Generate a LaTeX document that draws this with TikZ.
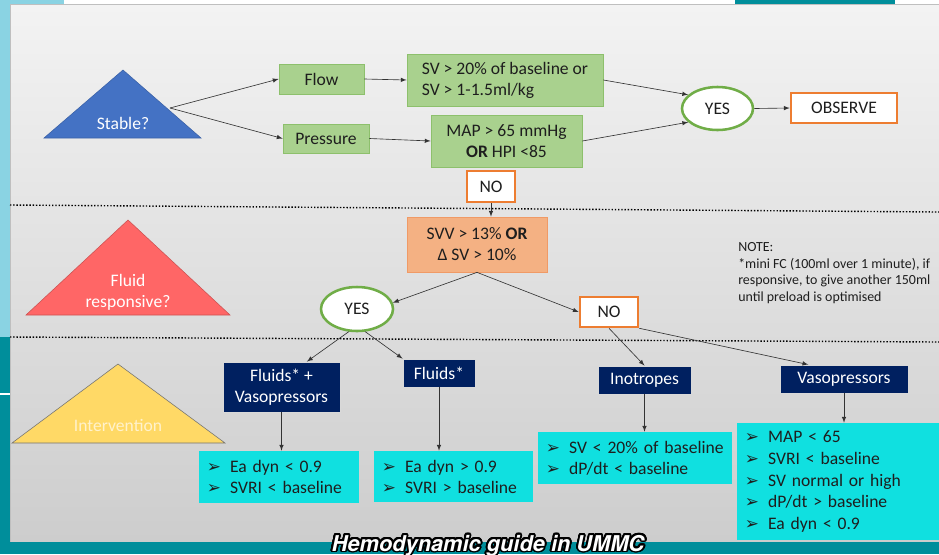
\documentclass[tikz,border=0pt]{standalone}
\usepackage{fontspec}
\setmainfont{Carlito}
\newfontfamily\symfont{DejaVu Sans}
\newfontfamily\titlefont{TeX Gyre Heros}
\usepackage{contour}
\usetikzlibrary{shapes,arrows,positioning}

\definecolor{stripBlue}{HTML}{8AD3E3}
\definecolor{stripTeal}{HTML}{008E9B}
\definecolor{panelTop}{HTML}{F3F3F3}
\definecolor{panelBot}{HTML}{CDCDCD}
\definecolor{stableBlue}{HTML}{4472C4}
\definecolor{fluidRed}{HTML}{FF6666}
\definecolor{interYellow}{HTML}{FFD966}
\definecolor{interText}{HTML}{FFF2CC}
\definecolor{boxGreen}{HTML}{A9D18E}
\definecolor{boxGreenLine}{HTML}{8DC06C}
\definecolor{lineGreen}{HTML}{70AD47}
\definecolor{lineOrange}{HTML}{ED7D31}
\definecolor{svvOrange}{HTML}{F4B183}
\definecolor{svvLine}{HTML}{F09A66}
\definecolor{navyBox}{HTML}{002060}
\definecolor{cyanBox}{HTML}{10E0E0}
\definecolor{textDark}{HTML}{1E1E1E}

\newcommand{\itm}{\makebox[16.5pt][l]{\symfont\fontsize{12}{12}\selectfont ➢}}
\contourlength{1.3pt}
\contournumber{24}

\begin{document}
\begin{tikzpicture}[x=0.025cm, y=-0.025cm, font=\fontsize{12.5}{15}\selectfont, text=textDark]
			\tikzstyle{Green}	= [rectangle, fill=boxGreen, draw=boxGreenLine, line width=0.5pt]
			\tikzstyle{Yes}		= [ellipse, fill=white, draw=lineGreen, line width=1.8pt, minimum width=17.75mm, minimum height=10.75mm, inner sep=0pt]
			\tikzstyle{Orange}	= [rectangle, fill=white, draw=lineOrange, line width=1.8pt]
			\tikzstyle{Svv}		= [rectangle, fill=svvOrange, draw=svvLine, line width=0.5pt, align=center]
			\tikzstyle{Navy}	= [rectangle, fill=navyBox, draw=white!85!black, line width=0.6pt, text=white, align=center]
			\tikzstyle{Cyan}	= [rectangle, fill=cyanBox, inner xsep=2mm, align=left]
			\tikzstyle{Label}	= [text=white, align=center]
			\tikzstyle{Conn}	= [-latex, draw=black!80, line width=0.45pt]
			\tikzstyle{Level}	= [line width=1pt, dash pattern=on 1pt off 1.3pt]
			
			% background, panel and borders
			\useasboundingbox (0,0) rectangle (939,554);
			\fill [white] (0,0) rectangle (939,554);
			\fill [stripBlue] (0,0) rectangle (64,5);
			\fill [stripBlue] (0,0) rectangle (10,337);
			\fill [stripTeal] (0,337) rectangle (10,554);
			\fill [stripTeal] (735,0) rectangle (895,4);
			\shade [top color=panelTop, bottom color=panelBot, draw=black!25] (10,4.5) rectangle (939,542);
			\fill [stripTeal] (0,542) rectangle (939,554);
			\draw [white, line width=1pt] (0,394) -- (10,394);
			\draw [Level] (10,205) -- (939,212);
			\draw [Level] (10,337) -- (939,342);
			
			% level triangles
			\filldraw [fill=stableBlue, draw=stableBlue!85!black, line width=0.4pt] (123,70) -- (201,138) -- (44,138) -- cycle;
			\filldraw [fill=fluidRed, draw=fluidRed!80!black, line width=0.4pt] (128,220) -- (230,315) -- (26,315) -- cycle;
			\filldraw [fill=interYellow, draw=black!55, line width=0.4pt] (118,364) -- (225,443) -- (12,443) -- cycle;
			\node (stable) at (123,123) [Label] {Stable?};
			\node (fluid) at (128,292) [Label] {Fluid\\responsive?};
			\node (inter) at (118,425) [Label][text=interText] {Intervention};
			\coordinate (stabTip) at (170,108);
			
			% stable
			\node (flow) at (321.5,79) [Green][minimum width=21.25mm, minimum height=7.5mm] {Flow};
			\node (press) at (326,138.5) [Green][minimum width=21.5mm, minimum height=7.25mm] {Pressure};
			\node (svbase) at (505,80) [Green][align=left, minimum width=49mm, minimum height=13mm] {SV > 20\% of baseline or\\SV > 1-1.5ml/kg};
			\node (map) at (506.5,141) [Green][align=center, minimum width=37.75mm, minimum height=13mm] {MAP > 65 mmHg\\\textbf{OR} HPI <85};
			\node (yes1) at (717.5,108.5) [Yes] {YES};
			\node (observe) at (844,108) [Orange][minimum width=26.5mm, minimum height=7.5mm] {OBSERVE};
			\node (no1) at (491,186.5) [Orange][minimum width=12mm, minimum height=7.75mm] {NO};
			
			% fluid responsive
			\node (svv) at (477,244.5) [Svv][minimum width=35mm, minimum height=13.75mm] {SVV > 13\% \textbf{OR}\\Δ SV > 10\%};
			\node (yes2) at (357,309) [Yes][minimum width=18mm, minimum height=11mm] {YES};
			\node (no2) at (609,312) [Orange][minimum width=14.5mm, minimum height=7.5mm] {NO};
			\node (note) at (738,273) [anchor=west, align=left, inner xsep=0pt, font=\fontsize{9.9}{11.9}\selectfont] {NOTE:\\*mini FC (100ml over 1 minute), if\\responsive, to give another 150ml\\until preload is optimised};
			
			% intervention
			\node (fluvaso) at (281.5,387) [Navy][minimum width=29.25mm, minimum height=12.5mm] {Fluids* +\\Vasopressors};
			\node (fluids) at (439,373) [Navy][minimum width=18mm, minimum height=7mm] {Fluids*};
			\node (ino) at (644.5,380) [Navy][minimum width=23.25mm, minimum height=7mm] {Inotropes};
			\node (vaso) at (844,379) [Navy][minimum width=32mm, minimum height=7mm] {Vasopressors};
			\node (crit1) at (279,477) [Cyan][text width=36mm, minimum height=13mm] {\itm Ea dyn < 0.9\\\itm SVRI < baseline};
			\node (crit2) at (453.5,476.5) [Cyan][text width=35.75mm, minimum height=12.75mm] {\itm Ea dyn > 0.9\\\itm SVRI > baseline};
			\node (crit3) at (635,458) [Cyan][text width=44.5mm, minimum height=13mm] {\itm SV < 20\% of baseline\\\itm dP/dt < baseline};
			\node (crit4) at (838,481.5) [Cyan][text width=46.5mm, minimum height=29.25mm, font=\fontsize{12.5}{15.5}\selectfont] {\itm MAP < 65\\\itm SVRI < baseline\\\itm SV normal or high\\\itm dP/dt > baseline\\\itm Ea dyn < 0.9};
			
			\node (title) at (488,551) [anchor=base, text=white, font=\titlefont\bfseries\itshape\fontsize{15.5}{18}\selectfont] {\contour{black}{Hemodynamic guide in UMMC}};
			
			\draw (stabTip) to (flow.west) [Conn];
			\draw (stabTip) to (press.west) [Conn];
			\draw (flow.east) to (svbase.west) [Conn];
			\draw (press.east) to (map.west) [Conn];
			\draw (svbase.east) to (yes1.155) [Conn];
			\draw (map.east) to (yes1.205) [Conn];
			\draw (yes1.east) to (observe.west) [Conn];
			\draw (no1.south) to (no1.south |- svv.north) [Conn];
			\draw (svv.south) to (yes2.10) [Conn];
			\draw (svv.south) to (no2.west) [Conn];
			\draw (yes2.250) to (fluvaso.45) [Conn];
			\draw (yes2.290) to (fluids.north west) [Conn];
			\draw (no2.south) to (ino.north) [Conn];
			\draw (no2.south east) to (vaso.158) [Conn];
			\draw (fluvaso.south) to (fluvaso.south |- crit1.north) [Conn];
			\draw (fluids.south) to (fluids.south |- crit2.north) [Conn];
			\draw (ino.south) to (ino.south |- crit3.north) [Conn];
			\draw (vaso.south) to (vaso.south |- crit4.north) [Conn];
		\end{tikzpicture}
\end{document}
